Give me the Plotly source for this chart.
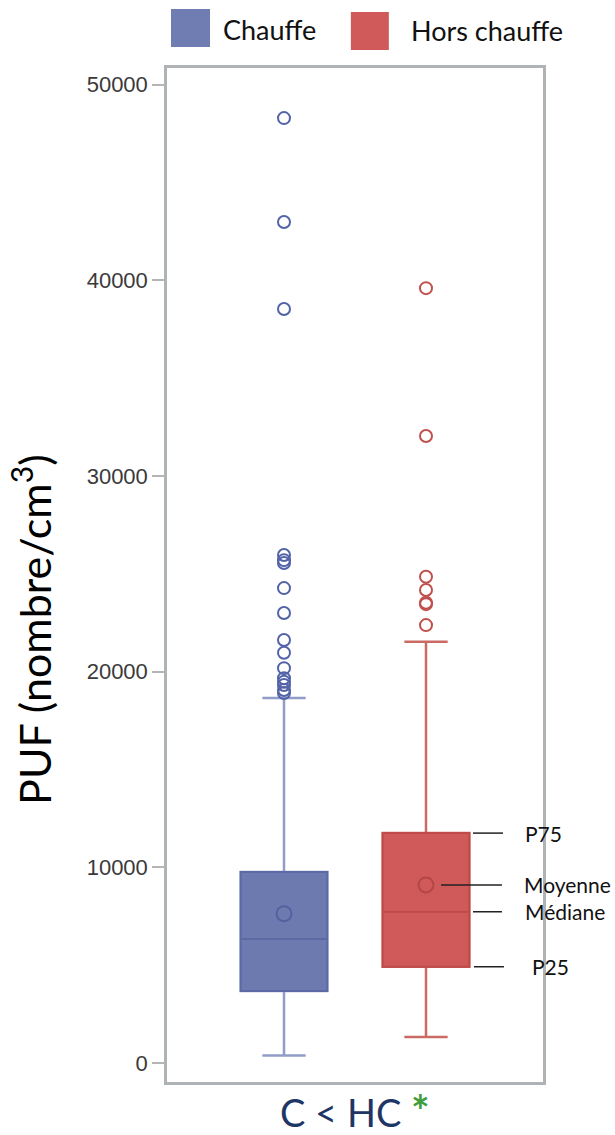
import plotly.graph_objects as go

# ---------------- data ----------------
categories = ["Chauffe", "Hors chauffe"]
q1 = [3680, 4920]
median = [6340, 7730]
q3 = [9760, 11750]
lower_fence = [380, 1330]
upper_fence = [18650, 21530]
means = [7630, 9100]
outliers_chauffe = [48290, 42980, 38530, 25960, 25700, 25550, 24270, 23000,
                    21620, 20970, 20180, 19660, 19480, 19320, 19060, 18910]
outliers_hors = [39600, 32040, 24850, 24170, 23520, 23450, 22380]
y_ticks = [0, 10000, 20000, 30000, 40000, 50000]
y_ticktext = ["0", "10000", "20000", "30000", "40000", "50000"]
stat_labels = ["P75", "Moyenne", "Médiane", "P25"]

# ---------------- styles ----------------
fill_colors = ["#6C7AB0", "#D05A5A"]
border_colors = ["#5B69A5", "#BE4A4A"]
whisker_colors = ["#919DC8", "#C96B62"]
point_colors = ["#5363A8", "#C0504D"]
mean_colors = ["#52619E", "#B44646"]
legend_colors = ["#6F7DB2", "#D05A5A"]
outliers = [outliers_chauffe, outliers_hors]

fig = go.Figure()

for i, cat in enumerate(categories):
    # whiskers + caps (lighter colour)
    fig.add_trace(go.Box(
        x=[cat], q1=[q1[i]], median=[median[i]], q3=[q3[i]],
        lowerfence=[lower_fence[i]], upperfence=[upper_fence[i]],
        fillcolor=fill_colors[i], line=dict(color=whisker_colors[i], width=2.5),
        width=0.61, whiskerwidth=0.5, boxpoints=False, hoverinfo="skip",
        showlegend=False,
    ))
    # box body + median (darker outline)
    fig.add_trace(go.Box(
        x=[cat], q1=[q1[i]], median=[median[i]], q3=[q3[i]],
        lowerfence=[q1[i]], upperfence=[q3[i]],
        fillcolor=fill_colors[i], line=dict(color=border_colors[i], width=2),
        width=0.61, whiskerwidth=0, boxpoints=False, hoverinfo="skip",
        showlegend=False,
    ))
    # outliers
    fig.add_trace(go.Scatter(
        x=[cat] * len(outliers[i]), y=outliers[i], mode="markers",
        marker=dict(symbol="circle-open", size=12, color=point_colors[i],
                    line=dict(width=2, color=point_colors[i])),
        showlegend=False, hoverinfo="y",
    ))
    # mean
    fig.add_trace(go.Scatter(
        x=[cat], y=[means[i]], mode="markers",
        marker=dict(symbol="circle-open", size=15, color=mean_colors[i],
                    line=dict(width=2, color=mean_colors[i])),
        showlegend=False, hoverinfo="y",
    ))

# ---------------- stat annotations on the red box ----------------
red = 1
stat_values = [q3[red], means[red], median[red], q1[red]]
line_starts = [1.331, 1.106, 1.331, 1.338]
line_ends = [1.542, 1.535, 1.535, 1.549]
text_x = [1.683, 1.675, 1.683, 1.732]
for lab, val, xs, xe, tx in zip(stat_labels, stat_values, line_starts, line_ends, text_x):
    fig.add_shape(type="line", xref="x", yref="y", x0=xs, x1=xe, y0=val, y1=val,
                  line=dict(color="#222222", width=1.5))
    fig.add_annotation(xref="x", yref="y", x=tx, y=val, text=lab, showarrow=False,
                       xanchor="left", yanchor="middle",
                       font=dict(family="Lato", size=21, color="#111111"))

# ---------------- legend (drawn) ----------------
legend_boxes = [(0.0106, 0.1144, 1.0207, 1.0582), (0.489, 0.590, 1.0178, 1.0552)]
legend_text_x = [0.1436, 0.6436]
legend_text_y = [1.0375, 1.0365]
for i, cat in enumerate(categories):
    x0, x1, y0, y1 = legend_boxes[i]
    fig.add_shape(type="rect", xref="paper", yref="paper", x0=x0, x1=x1, y0=y0, y1=y1,
                  fillcolor=legend_colors[i], line=dict(width=0))
    fig.add_annotation(xref="paper", yref="paper", x=legend_text_x[i], y=legend_text_y[i],
                       text=cat, showarrow=False, xanchor="left", yanchor="middle",
                       font=dict(family="Lato", size=27, color="#111111"))

# ---------------- axis titles ----------------
fig.add_annotation(xref="paper", yref="paper", x=-0.362, y=0.4467,
                   text="PUF (nombre/cm<sup>3</sup>)", textangle=-90, showarrow=False,
                   xanchor="center", yanchor="middle",
                   font=dict(family="Lato", size=43, color="#000000"))
fig.add_annotation(xref="paper", yref="paper", x=0.500, y=-0.0276,
                   text="C &lt; HC <span style='color:#3E9E3B;font-size:44px'><b>*</b></span>",
                   showarrow=False, xanchor="center", yanchor="middle",
                   font=dict(family="Lato", size=38, color="#1F3566"))

fig.update_layout(
    width=615, height=1135,
    margin=dict(l=167, r=72, t=68, b=53),
    plot_bgcolor="white", paper_bgcolor="white",
    showlegend=False, boxmode="overlay",
    xaxis=dict(type="category", categoryorder="array", categoryarray=categories,
               range=[-0.824, 1.824], showticklabels=False, ticks="",
               showgrid=False, zeroline=False,
               showline=True, mirror=True, linecolor="#AEB3B6", linewidth=2.5),
    yaxis=dict(range=[-970, 50850], tickvals=y_ticks, ticktext=y_ticktext,
               ticks="outside", ticklen=12, tickwidth=2, tickcolor="#B5B5B5",
               tickfont=dict(family="Liberation Sans", size=22, color="#3A3A3A"),
               showgrid=False, zeroline=False,
               showline=True, mirror=True, linecolor="#AEB3B6", linewidth=2.5),
)

fig.write_html(
    "out.html",
    config={"displayModeBar": False},
    post_script="document.body.style.margin='0';document.body.style.padding='0';"
                "document.body.style.overflow='hidden';",
)
